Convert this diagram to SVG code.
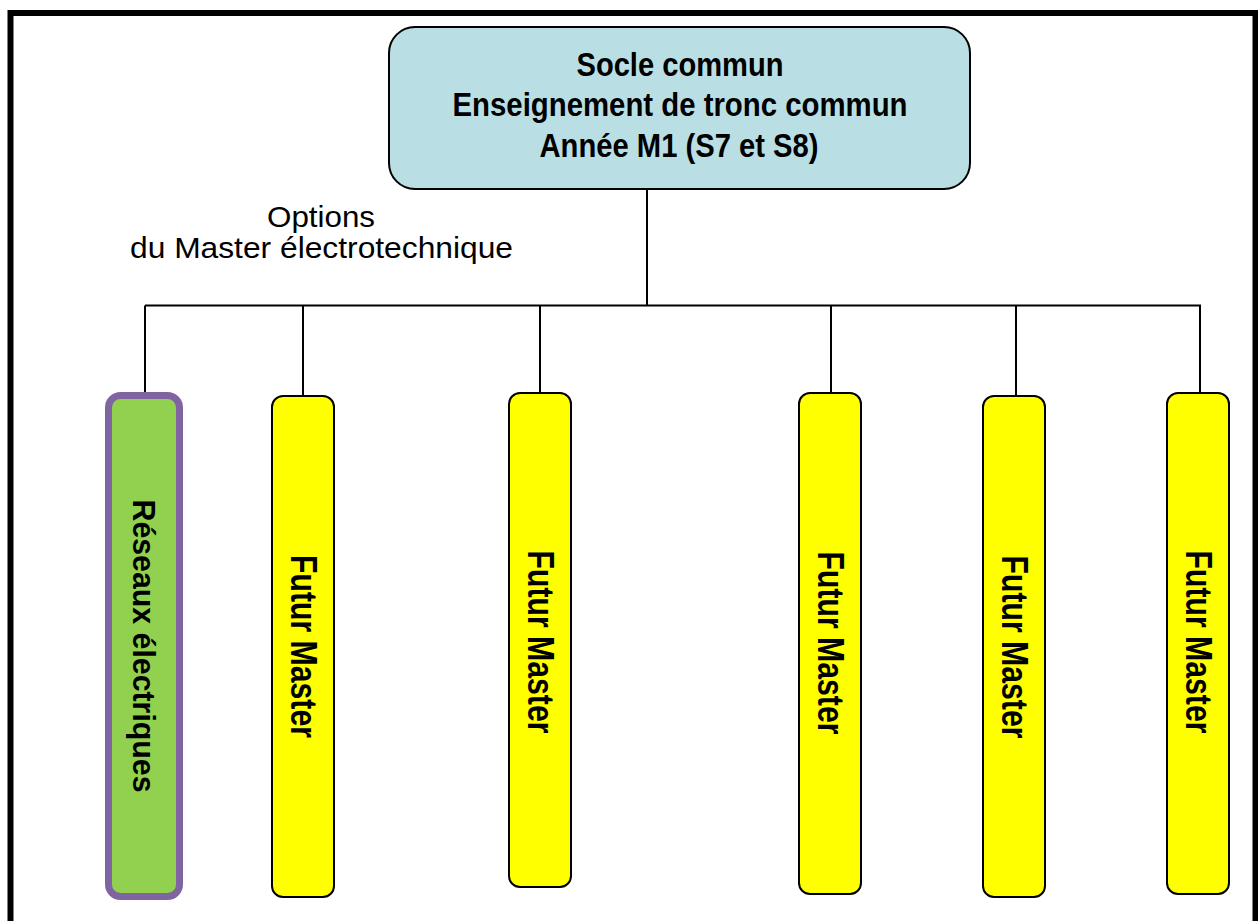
<svg xmlns="http://www.w3.org/2000/svg" width="1258" height="921" viewBox="0 0 1258 921">
<style>
.frame{fill:none;stroke:#000;stroke-width:6}
.top{fill:#B9DFE4;stroke:#000;stroke-width:2}
.yel{fill:#FFFF00;stroke:#000;stroke-width:2}
.grn{fill:#92D050;stroke:#8064A2;stroke-width:7}
.conn line{stroke:#000;stroke-width:2}
.bt{font-family:"Liberation Sans",Arial,sans-serif;font-weight:bold;fill:#000;text-anchor:middle}
.rt{font-family:"Liberation Sans",Arial,sans-serif;fill:#000;text-anchor:middle}
</style>
<rect x="0" y="0" width="1258" height="921" fill="#fff"/>
<rect class="frame" x="10.5" y="13" width="1245" height="940"/>
<g class="conn">
<line x1="647" y1="189" x2="647" y2="305.5"/>
<line x1="145" y1="305.5" x2="1201" y2="305.5"/>
<line x1="145" y1="305.5" x2="145" y2="392"/>
<line x1="303" y1="305.5" x2="303" y2="396"/>
<line x1="540" y1="305.5" x2="540" y2="393"/>
<line x1="831" y1="305.5" x2="831" y2="393"/>
<line x1="1016" y1="305.5" x2="1016" y2="396"/>
<line x1="1200" y1="305.5" x2="1200" y2="393"/>
</g>
<g id="socle">
<rect class="top" x="389" y="27" width="581" height="162" rx="26"/>
<text class="bt" font-size="33" x="680" y="76" textLength="207" lengthAdjust="spacingAndGlyphs">Socle commun</text>
<text class="bt" font-size="33" x="680" y="116" textLength="455" lengthAdjust="spacingAndGlyphs">Enseignement de tronc commun</text>
<text class="bt" font-size="33" x="679" y="157" textLength="279" lengthAdjust="spacingAndGlyphs">Année M1 (S7 et S8)</text>
</g>
<g id="options-label">
<text class="rt" font-size="30" x="321" y="227" textLength="108" lengthAdjust="spacingAndGlyphs">Options</text>
<text class="rt" font-size="30" x="321.5" y="258" textLength="383" lengthAdjust="spacingAndGlyphs">du Master électrotechnique</text>
</g>
<g id="reseaux">
<rect class="grn" x="108.5" y="395.5" width="71" height="501" rx="12"/>
<text class="bt" font-size="31" transform="translate(133,646) rotate(90)" x="0" y="0" textLength="293" lengthAdjust="spacingAndGlyphs">Réseaux électriques</text>
</g>
<g id="futur1">
<rect class="yel" x="272" y="396" width="62" height="501" rx="11"/>
<text class="bt" font-size="36" transform="translate(291,646.5) rotate(90)" textLength="183" lengthAdjust="spacingAndGlyphs">Futur Master</text>
</g>
<g id="futur2">
<rect class="yel" x="509" y="393" width="62" height="494" rx="11"/>
<text class="bt" font-size="36" transform="translate(528,642) rotate(90)" textLength="183" lengthAdjust="spacingAndGlyphs">Futur Master</text>
</g>
<g id="futur3">
<rect class="yel" x="799" y="393" width="62" height="501" rx="11"/>
<text class="bt" font-size="36" transform="translate(818,643) rotate(90)" textLength="183" lengthAdjust="spacingAndGlyphs">Futur Master</text>
</g>
<g id="futur4">
<rect class="yel" x="983" y="396" width="62" height="501" rx="11"/>
<text class="bt" font-size="36" transform="translate(1002,647) rotate(90)" textLength="183" lengthAdjust="spacingAndGlyphs">Futur Master</text>
</g>
<g id="futur5">
<rect class="yel" x="1167" y="393" width="62" height="501" rx="11"/>
<text class="bt" font-size="36" transform="translate(1186,642) rotate(90)" textLength="183" lengthAdjust="spacingAndGlyphs">Futur Master</text>
</g>
</svg>
